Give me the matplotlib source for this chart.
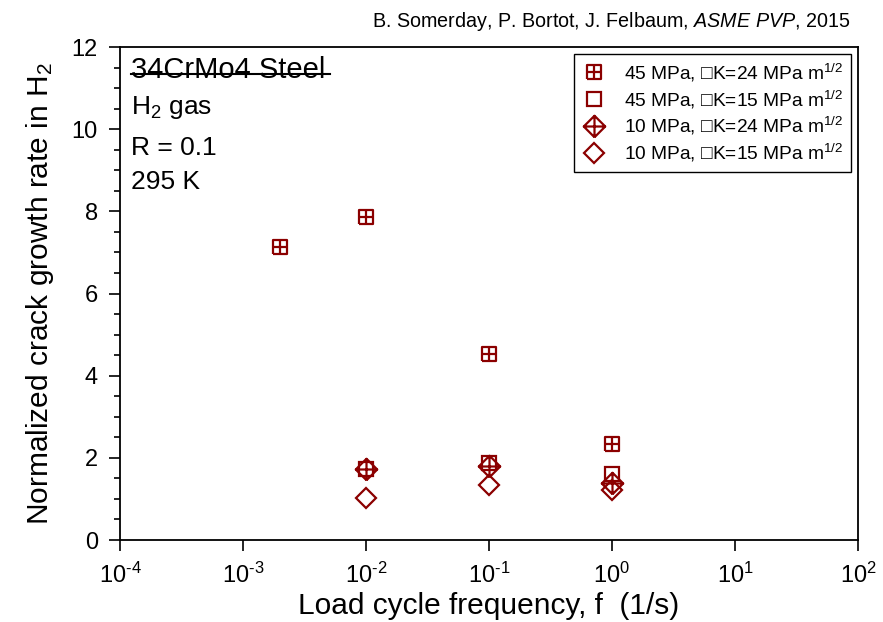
import matplotlib
matplotlib.use("Agg")
import matplotlib.pyplot as plt
import matplotlib.path as mpath
from matplotlib.lines import Line2D
from matplotlib.ticker import MultipleLocator, NullLocator, FixedLocator

plt.rcParams['font.family'] = ['Liberation Sans', 'DejaVu Sans']
plt.rcParams['mathtext.fontset'] = 'custom'
plt.rcParams['mathtext.rm'] = 'Liberation Sans'
plt.rcParams['mathtext.it'] = 'Liberation Sans:italic'
plt.rcParams['mathtext.default'] = 'regular'

# ---- data ----
labels = [
    "45 MPa, \u25a1K=24 MPa m$^{1/2}$",
    "45 MPa, \u25a1K=15 MPa m$^{1/2}$",
    "10 MPa, \u25a1K=24 MPa m$^{1/2}$",
    "10 MPa, \u25a1K=15 MPa m$^{1/2}$",
]
x_45_24 = [0.002, 0.01, 0.1, 1.0]
y_45_24 = [7.13, 7.87, 4.52, 2.33]
x_45_15 = [0.01, 0.1, 1.0]
y_45_15 = [1.73, 1.87, 1.61]
x_10_24 = [0.01, 0.1, 1.0]
y_10_24 = [1.74, 1.79, 1.39]
x_10_15 = [0.01, 0.1, 1.0]
y_10_15 = [1.03, 1.34, 1.21]

xtick_vals = [1e-4, 1e-3, 1e-2, 1e-1, 1e0, 1e1, 1e2]
xtick_labels = [r"10$^{\text{-}4}$", r"10$^{\text{-}3}$", r"10$^{\text{-}2}$",
                r"10$^{\text{-}1}$", "10$^{0}$", "10$^{1}$", "10$^{2}$"]

color = '#8B0000'

# custom markers
M, L = mpath.Path.MOVETO, mpath.Path.LINETO
sq_plus = mpath.Path(
    [(-1, -1), (1, -1), (1, 1), (-1, 1), (-1, -1), (0, -1), (0, 1), (-1, 0), (1, 0)],
    [M, L, L, L, L, M, L, M, L])
dia_plus = mpath.Path(
    [(0, -1), (1, 0), (0, 1), (-1, 0), (0, -1), (0, -1), (0, 1), (-1, 0), (1, 0)],
    [M, L, L, L, L, M, L, M, L])

fig = plt.figure(figsize=(8.83, 6.22), dpi=100)
ax = fig.add_axes([0.1359, 0.1318, 0.8358, 0.7926])

common = dict(linestyle='none', color=color, markerfacecolor='none', markeredgewidth=1.6)
ax.plot(x_45_24, y_45_24, marker=sq_plus, markersize=10.5, label=labels[0], **common)
ax.plot(x_45_15, y_45_15, marker='s', markersize=10.5, label=labels[1], **common)
ax.plot(x_10_24, y_10_24, marker=dia_plus, markersize=15.5, label=labels[2], **common)
ax.plot(x_10_15, y_10_15, marker='D', markersize=10.5, label=labels[3], **common)

ax.set_xscale('log')
ax.set_xlim(1e-4, 1e2)
ax.set_ylim(0, 12)
ax.xaxis.set_major_locator(FixedLocator(xtick_vals))
ax.set_xticklabels(xtick_labels)
ax.xaxis.set_minor_locator(NullLocator())
ax.yaxis.set_major_locator(MultipleLocator(2))
ax.yaxis.set_minor_locator(MultipleLocator(0.5))
ax.tick_params(axis='both', which='major', direction='out', length=8, width=1.2,
               labelsize=17, colors='black')
ax.tick_params(axis='y', which='minor', direction='out', length=4.5, width=1.2)
ax.tick_params(axis='x', which='major', pad=8)
ax.tick_params(axis='y', which='major', pad=8)
ax.tick_params(top=False, right=False)
for s in ax.spines.values():
    s.set_linewidth(1.3)

ax.set_xlabel("Load cycle frequency, f  (1/s)", fontsize=21.5, labelpad=3)
ax.set_ylabel("Normalized crack growth rate in H$_2$", fontsize=21.5, labelpad=11)

leg = ax.legend(loc='upper right', fontsize=13.8, frameon=True, fancybox=False,
                edgecolor='black', framealpha=1, borderpad=0.4, labelspacing=0.25,
                handlelength=1.3, handletextpad=0.9, borderaxespad=0.36, numpoints=1)
leg.get_frame().set_linewidth(1.0)

# annotation text block
ax.text(0.015, 0.937, "34CrMo4 Steel", transform=ax.transAxes, fontsize=21,
        ha='left', va='baseline')
ax.add_line(Line2D([0.015, 0.2846], [0.945, 0.945], transform=ax.transAxes,
                   color='black', linewidth=1.5))
ax.text(0.015, 0.864, "H$_2$ gas", transform=ax.transAxes, fontsize=19, ha='left', va='baseline')
ax.text(0.015, 0.781, "R = 0.1", transform=ax.transAxes, fontsize=19, ha='left', va='baseline')
ax.text(0.015, 0.712, "295 K", transform=ax.transAxes, fontsize=19, ha='left', va='baseline')

fig.text(0.963, 0.965, "B. Somerday, P. Bortot, J. Felbaum, $\\it{ASME\\ PVP}$, 2015",
         fontsize=14.2, ha='right', va='center')

fig.savefig("out.png", dpi=100)
